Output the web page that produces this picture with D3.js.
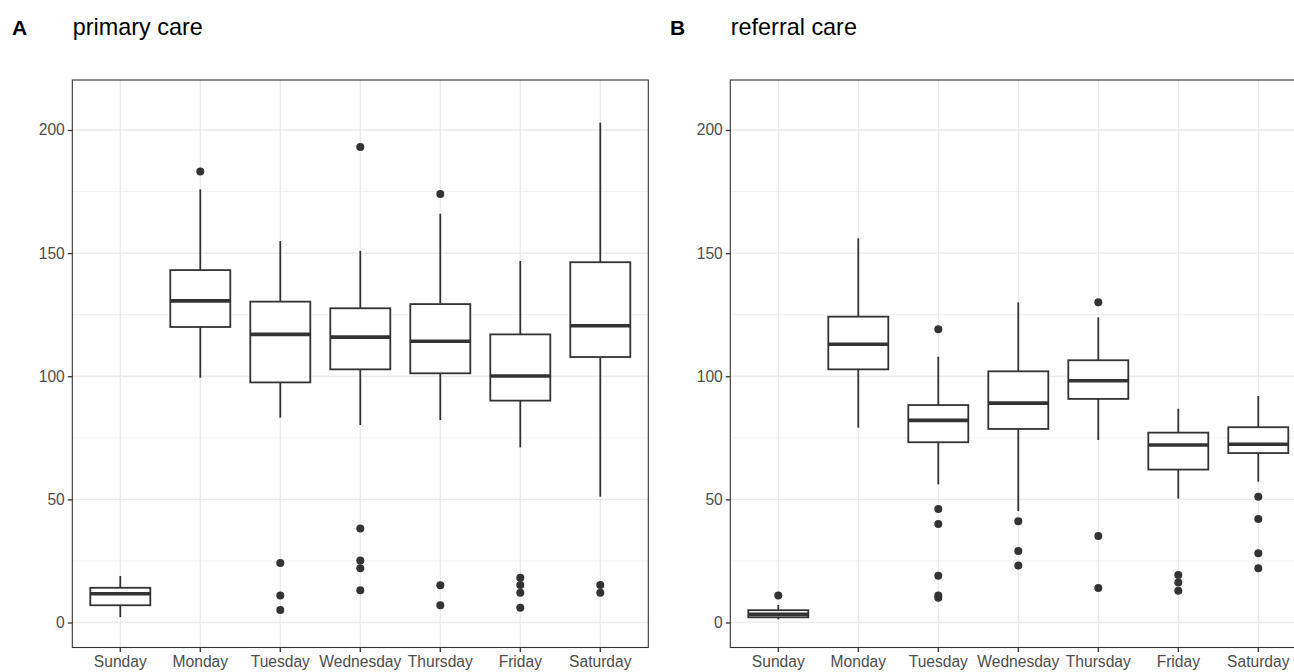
<!DOCTYPE html>
<html>
<head>
<meta charset="utf-8">
<script src="https://cdn.jsdelivr.net/npm/d3@7"></script>
<style>
  html, body { margin: 0; padding: 0; background: #ffffff; }
  svg { display: block; font-family: "Liberation Sans", Arial, sans-serif; }
</style>
</head>
<body>
<svg id="chart" width="1294" height="672"></svg>
<script>
// ---------- data ----------
const days = ["Sunday", "Monday", "Tuesday", "Wednesday", "Thursday", "Friday", "Saturday"];
const yTicks = [0, 50, 100, 150, 200];
const yMinorTicks = [25, 75, 125, 175];

// primary care
const primaryWhiskerLow  = [2.2, 99.4, 83.2, 80.2, 82.2, 71.1, 51.1];
const primaryQ1          = [7.0, 120.0, 97.5, 102.8, 101.2, 90.1, 107.8];
const primaryMedian      = [11.7, 130.6, 117.0, 115.9, 114.2, 100.1, 120.5];
const primaryQ3          = [14.1, 143.1, 130.3, 127.6, 129.3, 117.0, 146.3];
const primaryWhiskerHigh = [18.9, 175.9, 154.9, 150.9, 166.0, 146.8, 203.0];
const primaryOutliers    = [[], [183.1], [24.2, 11.0, 5.1], [193.1, 38.2, 25.2, 22.0, 13.1], [174.0, 15.1, 7.0], [18.2, 15.2, 12.1, 6.0], [15.2, 12.1]];

// referral care
const referralWhiskerLow  = [1.3, 79.1, 56.1, 45.3, 74.1, 50.3, 57.2];
const referralQ1          = [2.1, 102.8, 73.2, 78.6, 90.8, 62.1, 68.8];
const referralMedian      = [3.3, 113.0, 82.1, 89.1, 98.2, 72.1, 72.4];
const referralQ3          = [5.0, 124.2, 88.3, 102.0, 106.5, 77.1, 79.3];
const referralWhiskerHigh = [7.1, 156.0, 107.9, 130.0, 123.9, 86.8, 92.0];
const referralOutliers    = [[11.0], [], [119.1, 46.1, 40.0, 19.0, 11.0, 10.1], [41.1, 29.0, 23.1], [130.0, 35.1, 14.0], [19.3, 16.2, 12.9], [51.1, 42.0, 28.1, 22.0]];

const panels = [
  { label: "A", title: "primary care", offsetX: 0,
    lo: primaryWhiskerLow, q1: primaryQ1, med: primaryMedian, q3: primaryQ3, hi: primaryWhiskerHigh, out: primaryOutliers },
  { label: "B", title: "referral care", offsetX: 658,
    lo: referralWhiskerLow, q1: referralQ1, med: referralMedian, q3: referralQ3, hi: referralWhiskerHigh, out: referralOutliers }
];

// ---------- layout ----------
const svg = d3.select("#chart");
const plotLeft = 72.3, plotWidth = 576, plotTop = 80, plotBottom = 647.5;
const y = d3.scaleLinear().domain([-10.15, 220.3]).range([plotBottom, plotTop]);

const lineCol = "#333333";
const gridCol = "#ebebeb";
const tickTextCol = "#4d4d4d";

panels.forEach(p => {
  const g = svg.append("g").attr("transform", `translate(${p.offsetX},0)`);
  const x0 = plotLeft, x1 = plotLeft + plotWidth;
  // ggplot discrete expansion of 0.6 units on each side -> outer padding 0.1 step
  const x = d3.scaleBand().domain(days).range([x0, x1]).paddingOuter(0.1).paddingInner(0.0).align(0.5);
  const cx = d => x(d) + x.bandwidth() / 2;
  const boxW = x.step() * 0.75;

  // panel background
  g.append("rect").attr("x", x0).attr("y", plotTop).attr("width", plotWidth).attr("height", plotBottom - plotTop).attr("fill", "#fff");

  // minor grid
  g.selectAll(".ymin").data(yMinorTicks).enter().append("line")
    .attr("x1", x0).attr("x2", x1).attr("y1", d => y(d)).attr("y2", d => y(d))
    .attr("stroke", gridCol).attr("stroke-width", 0.7);
  // major grid
  g.selectAll(".ymaj").data(yTicks).enter().append("line")
    .attr("x1", x0).attr("x2", x1).attr("y1", d => y(d)).attr("y2", d => y(d))
    .attr("stroke", gridCol).attr("stroke-width", 1.4);
  g.selectAll(".xmaj").data(days).enter().append("line")
    .attr("x1", d => cx(d)).attr("x2", d => cx(d)).attr("y1", plotTop).attr("y2", plotBottom)
    .attr("stroke", gridCol).attr("stroke-width", 1.4);

  // boxplots
  days.forEach((d, i) => {
    const c = cx(d);
    g.append("line").attr("x1", c).attr("x2", c).attr("y1", y(p.hi[i])).attr("y2", y(p.q3[i]))
      .attr("stroke", lineCol).attr("stroke-width", 1.8);
    g.append("line").attr("x1", c).attr("x2", c).attr("y1", y(p.q1[i])).attr("y2", y(p.lo[i]))
      .attr("stroke", lineCol).attr("stroke-width", 1.8);
    g.append("rect").attr("x", c - boxW / 2).attr("width", boxW)
      .attr("y", y(p.q3[i])).attr("height", y(p.q1[i]) - y(p.q3[i]))
      .attr("fill", "#fff").attr("stroke", lineCol).attr("stroke-width", 1.8);
    g.append("line").attr("x1", c - boxW / 2).attr("x2", c + boxW / 2).attr("y1", y(p.med[i])).attr("y2", y(p.med[i]))
      .attr("stroke", lineCol).attr("stroke-width", 3.6);
    g.selectAll(null).data(p.out[i]).enter().append("circle")
      .attr("cx", c).attr("cy", v => y(v)).attr("r", 4).attr("fill", lineCol);
  });

  // panel border
  g.append("rect").attr("x", x0).attr("y", plotTop).attr("width", plotWidth).attr("height", plotBottom - plotTop)
    .attr("fill", "none").attr("stroke", lineCol).attr("stroke-width", 1.1);

  // y axis
  const yAxis = d3.axisLeft(y).tickValues(yTicks).tickSize(4.5).tickPadding(3).tickFormat(d3.format("d"));
  const ya = g.append("g").attr("transform", `translate(${x0},0)`).call(yAxis);
  ya.select(".domain").remove();
  ya.selectAll(".tick line").attr("stroke", lineCol).attr("stroke-width", 1.3);
  ya.selectAll(".tick text").attr("fill", tickTextCol).style("font-size", "15.6px")
    .style("font-family", "'Liberation Sans', Arial, sans-serif");

  // x axis
  const xAxis = d3.axisBottom(x).tickSize(4.5).tickPadding(4);
  const xa = g.append("g").attr("transform", `translate(0,${plotBottom})`).call(xAxis);
  xa.select(".domain").remove();
  xa.selectAll(".tick line").attr("stroke", lineCol).attr("stroke-width", 1.3);
  xa.selectAll(".tick text").attr("fill", tickTextCol).style("font-size", "15.6px")
    .style("font-family", "'Liberation Sans', Arial, sans-serif");

  // titles
  g.append("text").attr("x", 12).attr("y", 35).text(p.label)
    .style("font-size", "21px").style("font-weight", "bold").attr("fill", "#000");
  g.append("text").attr("x", x0 + 0.5).attr("y", 35).text(p.title)
    .style("font-size", "23.4px").attr("fill", "#000");
});
</script>
</body>
</html>
